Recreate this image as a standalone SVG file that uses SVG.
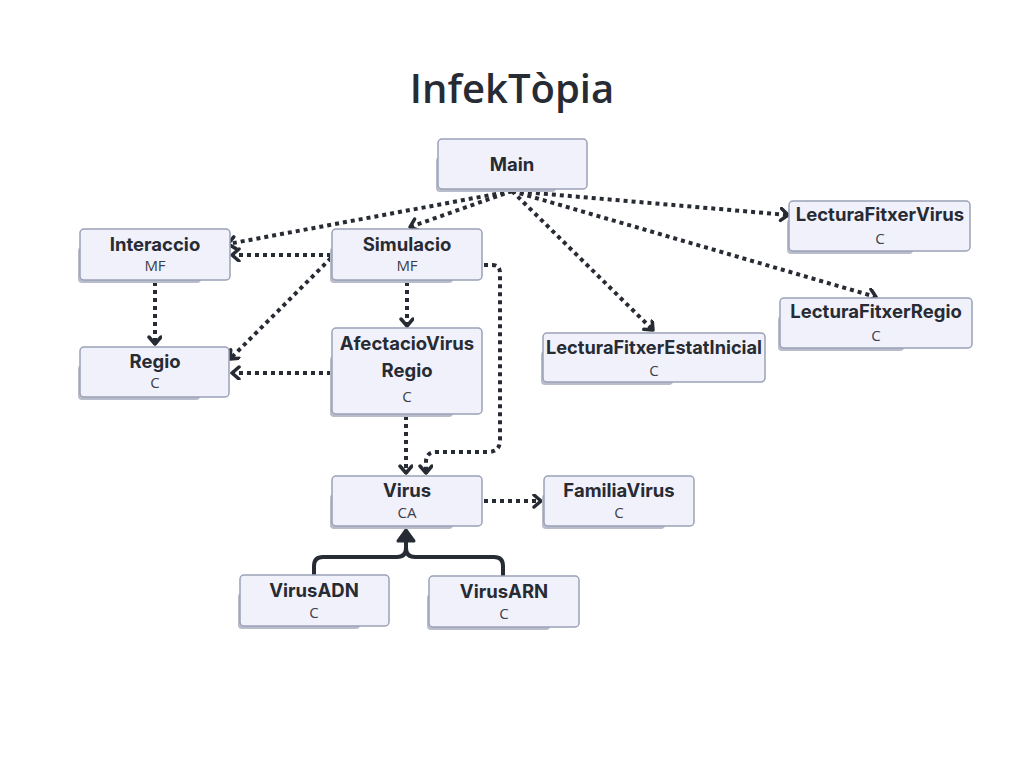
<svg xmlns="http://www.w3.org/2000/svg" width="1024" height="768" viewBox="0 0 1024 768">
<style>
.box{fill:#f1f1fb;stroke:#9aa1b6;stroke-width:1.5}
.sh{fill:#b9bdcb}
.t{font-family:Inter,Roboto,"Liberation Sans",sans-serif;font-weight:700;font-size:18.5px;fill:#272b33;text-anchor:middle}
.s{font-family:"Open Sans","Liberation Sans",sans-serif;font-size:15px;fill:#3a3f48;text-anchor:middle}
.title{font-family:"Open Sans","Liberation Sans",sans-serif;font-weight:600;font-size:40px;fill:#272b33;text-anchor:middle}
.d{fill:none;stroke:#272b33;stroke-width:4;stroke-dasharray:4 4;marker-end:url(#open)}
.i{fill:none;stroke:#272b33;stroke-width:4;stroke-linejoin:round}
</style>
<defs>
<marker id="open" markerWidth="16" markerHeight="16" refX="9" refY="7" orient="auto" markerUnits="userSpaceOnUse">
<path d="M2,1 L9,7 L2,13" fill="none" stroke="#272b33" stroke-width="3.5" stroke-linecap="round" stroke-linejoin="round"/>
</marker>
</defs>
<rect width="1024" height="768" fill="#ffffff"/>
<text class="title" x="512" y="103">InfekTòpia</text>

<g id="connectors">
<path class="d" d="M512,191 L228,244"/>
<path class="d" d="M512,191 L410,227"/>
<path class="d" d="M512,191 L653,330"/>
<path class="d" d="M512,191 L788,215"/>
<path class="d" d="M512,191 L876,297"/>
<path class="d" d="M331,255 L232,255"/>
<path class="d" d="M331,258 L230,359"/>
<path class="d" d="M407,282 L407,326"/>
<path class="d" d="M484,265 L492,265 Q500,265 500,273 L500,440 Q500,452 488,452 L436,452 Q426,452 426,462 L426,473"/>
<path class="d" d="M155,282 L155,344"/>
<path class="d" d="M331,373 L232,373"/>
<path class="d" d="M406,416 L406,473"/>
<path class="d" d="M484,501 L541,501"/>
<path class="i" d="M314,575 L314,566 Q314,557 323,557 L397,557 Q406,557 406,548 L406,538"/>
<path class="i" d="M503,576 L503,566 Q503,557 494,557 L415,557 Q406,557 406,548"/>
<path d="M398,541 L406,530 L414,541 Z" fill="#272b33" stroke="#272b33" stroke-width="3" stroke-linejoin="round"/>
</g>

<g id="Main">
<rect class="sh" x="436" y="157" width="120" height="35" rx="4"/>
<rect class="box" x="438" y="139" width="149" height="50" rx="4"/>
<text class="t" x="512" y="171">Main</text>
</g>
<g id="Interaccio">
<rect class="sh" x="78" y="247" width="123" height="36" rx="4"/>
<rect class="box" x="80" y="229" width="150" height="51" rx="4"/>
<text class="t" x="155" y="251">Interaccio</text>
<text class="s" x="155" y="271">MF</text>
</g>
<g id="Simulacio">
<rect class="sh" x="330" y="247" width="123" height="36" rx="4"/>
<rect class="box" x="332" y="229" width="150" height="51" rx="4"/>
<text class="t" x="407" y="251">Simulacio</text>
<text class="s" x="407" y="271">MF</text>
</g>
<g id="Regio">
<rect class="sh" x="78" y="365" width="122" height="35" rx="4"/>
<rect class="box" x="80" y="347" width="149" height="50" rx="4"/>
<text class="t" x="155" y="368">Regio</text>
<text class="s" x="155" y="388">C</text>
</g>
<g id="AfectacioVirusRegio">
<rect class="sh" x="330" y="356" width="123" height="61" rx="4"/>
<rect class="box" x="332" y="328" width="150" height="86" rx="4"/>
<text class="t" x="407" y="350">AfectacioVirus</text>
<text class="t" x="407" y="377">Regio</text>
<text class="s" x="407" y="402">C</text>
</g>
<g id="Virus">
<rect class="sh" x="330" y="494" width="123" height="35" rx="4"/>
<rect class="box" x="332" y="476" width="150" height="50" rx="4"/>
<text class="t" x="407" y="497">Virus</text>
<text class="s" x="407" y="518">CA</text>
</g>
<g id="FamiliaVirus">
<rect class="sh" x="542" y="494" width="123" height="35" rx="4"/>
<rect class="box" x="544" y="476" width="150" height="50" rx="4"/>
<text class="t" x="619" y="497">FamiliaVirus</text>
<text class="s" x="619" y="518">C</text>
</g>
<g id="VirusADN">
<rect class="sh" x="238" y="593" width="122" height="36" rx="4"/>
<rect class="box" x="240" y="575" width="149" height="51" rx="4"/>
<text class="t" x="314" y="597">VirusADN</text>
<text class="s" x="314" y="618">C</text>
</g>
<g id="VirusARN">
<rect class="sh" x="427" y="594" width="123" height="36" rx="4"/>
<rect class="box" x="429" y="576" width="150" height="51" rx="4"/>
<text class="t" x="504" y="598">VirusARN</text>
<text class="s" x="504" y="619">C</text>
</g>
<g id="LecturaFitxerEstatInicial">
<rect class="sh" x="541" y="351" width="132" height="34" rx="4"/>
<rect class="box" x="543" y="333" width="222" height="49" rx="4"/>
<text class="t" x="654" y="354" textLength="216" lengthAdjust="spacingAndGlyphs">LecturaFitxerEstatInicial</text>
<text class="s" x="654" y="376">C</text>
</g>
<g id="LecturaFitxerVirus">
<rect class="sh" x="787" y="219" width="126" height="35" rx="4"/>
<rect class="box" x="789" y="201" width="181" height="50" rx="4"/>
<text class="t" x="880" y="221">LecturaFitxerVirus</text>
<text class="s" x="880" y="244">C</text>
</g>
<g id="LecturaFitxerRegio">
<rect class="sh" x="778" y="316" width="126" height="35" rx="4"/>
<rect class="box" x="780" y="298" width="192" height="50" rx="4"/>
<text class="t" x="876" y="318">LecturaFitxerRegio</text>
<text class="s" x="876" y="341">C</text>
</g>
</svg>
